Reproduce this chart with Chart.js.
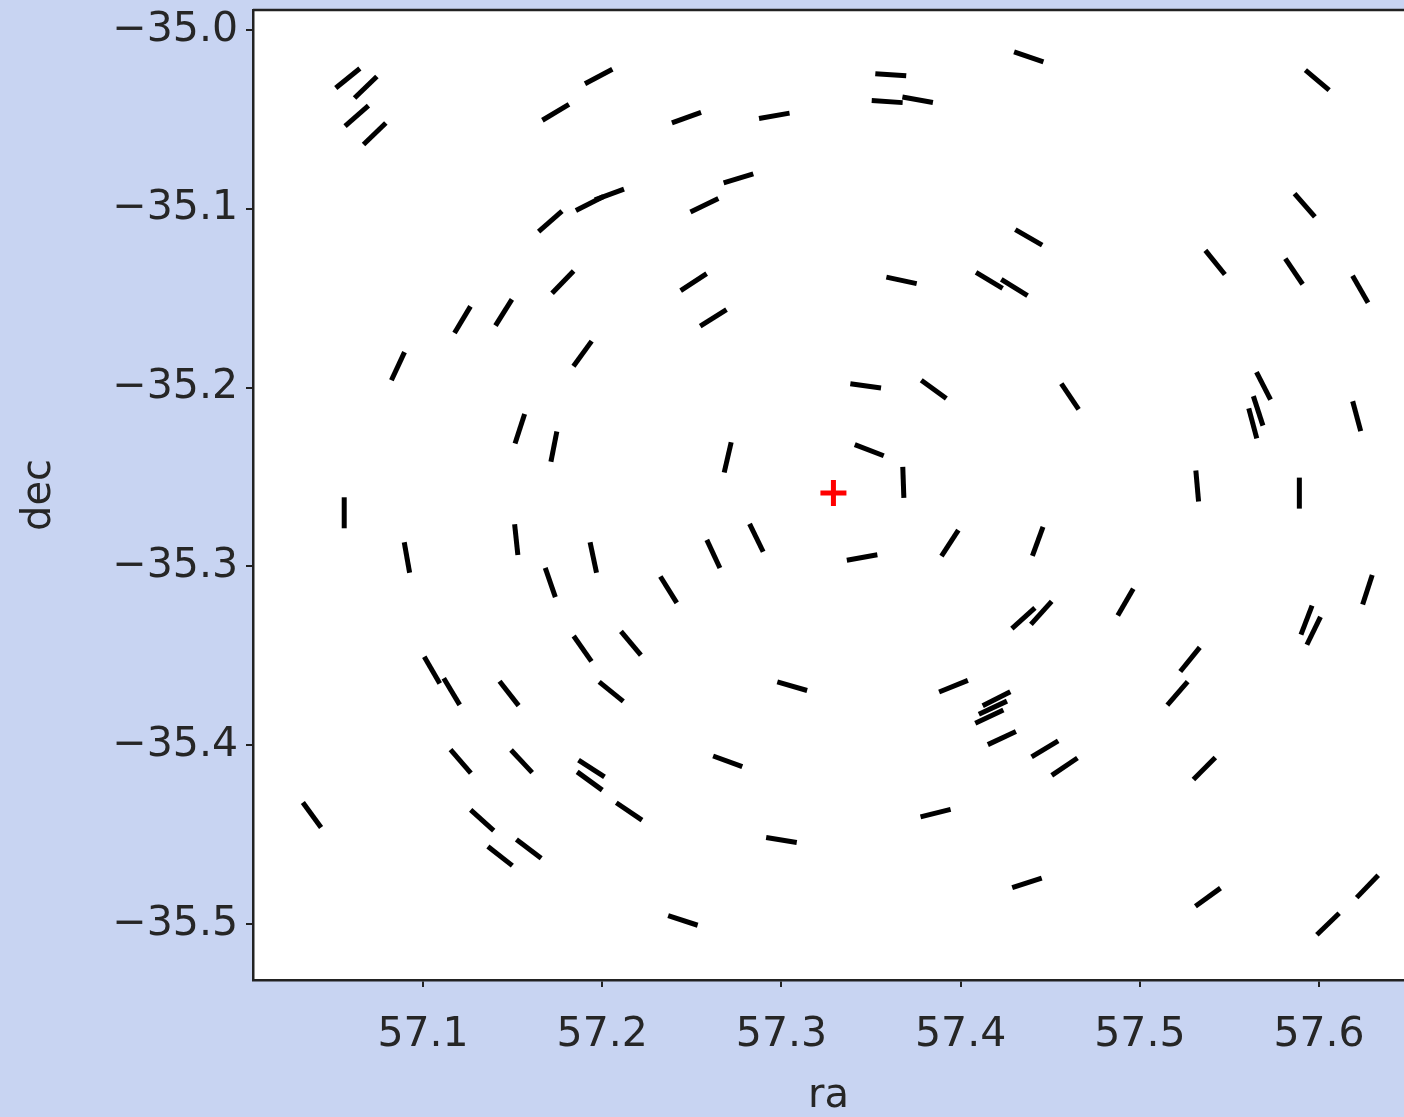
<!DOCTYPE html>
<html>
<head>
<meta charset="utf-8">
<script src="https://cdn.jsdelivr.net/npm/chart.js@4/dist/chart.umd.min.js"></script>
<style>
  html, body { margin: 0; padding: 0; background: #c8d4f2; }
  #wrap { width: 1404px; height: 1117px; }
</style>
</head>
<body>
<div id="wrap"><canvas id="shearChart"></canvas></div>
<script>
const ctx = document.getElementById("shearChart");

// stick positions (ra, dec) and screen angle of each stick in degrees
const ra = [
  57.058, 57.068, 57.063, 57.073, 57.198, 57.174, 57.193, 57.204, 57.171, 57.178,
  57.122, 57.145, 57.247, 57.296, 57.361, 57.359, 57.376, 57.276, 57.257, 57.251,
  57.262, 57.367, 57.416, 57.430, 57.438, 57.599, 57.592, 57.438, 57.542, 57.586,
  57.623, 57.086, 57.189, 57.154, 57.173, 57.056, 57.091, 57.152, 57.195, 57.171,
  57.189, 57.216, 57.347, 57.385, 57.270, 57.349, 57.368, 57.286, 57.262, 57.237,
  57.345, 57.394, 57.461, 57.569, 57.566, 57.563, 57.621, 57.532, 57.589, 57.443,
  57.435, 57.445, 57.492, 57.593, 57.597, 57.627, 57.528, 57.521, 57.105, 57.116,
  57.148, 57.205, 57.306, 57.396, 57.420, 57.418, 57.416, 57.423, 57.447, 57.458,
  57.536, 57.270, 57.121, 57.155, 57.194, 57.193, 57.215, 57.038, 57.133, 57.143,
  57.159, 57.386, 57.300, 57.245, 57.437, 57.538, 57.627, 57.605
];
const dec = [
  -35.027, -35.032, -35.048, -35.058, -35.026, -35.046, -35.097, -35.092, -35.107, -35.141,
  -35.162, -35.158, -35.049, -35.048, -35.025, -35.040, -35.039, -35.083, -35.098, -35.141,
  -35.161, -35.140, -35.140, -35.144, -35.015, -35.028, -35.098, -35.116, -35.130, -35.135,
  -35.145, -35.188, -35.181, -35.223, -35.233, -35.270, -35.295, -35.285, -35.295, -35.309,
  -35.346, -35.343, -35.199, -35.201, -35.239, -35.235, -35.253, -35.284, -35.293, -35.313,
  -35.295, -35.287, -35.205, -35.199, -35.213, -35.220, -35.216, -35.255, -35.259, -35.286,
  -35.329, -35.326, -35.320, -35.330, -35.336, -35.313, -35.352, -35.371, -35.358, -35.370,
  -35.371, -35.370, -35.367, -35.367, -35.374, -35.379, -35.384, -35.396, -35.402, -35.412,
  -35.413, -35.409, -35.409, -35.409, -35.413, -35.420, -35.437, -35.439, -35.442, -35.462,
  -35.458, -35.438, -35.453, -35.498, -35.477, -35.485, -35.479, -35.500
];
const angle = [
  -39, -44, -41, -44, -28, -31, -27, -20, -41, -46,
  -59, -58, -20, -10, 4, 4, 10, -17, -26, -33,
  -32, 12, 31, 32, 19, 40, 49, 30, 51, 56,
  60, -65, -54, -72, -79, 90, 80, 84, 78, 71,
  55, 50, 8, 36, -77, 21, 88, 64, 65, 58,
  -10, -57, 56, 63, 72, 75, 75, 85, 90, -70,
  -42, -48, -60, -69, -64, -72, -51, -49, 60, 59,
  52, 39, 16, -22, -27, -25, -25, -25, -31, -34,
  -45, 20, 49, 47, 33, 36, 34, 54, 42, 38,
  37, -14, 9, 18, -18, -36, -46, -44
];

const centerRa = [57.329];
const centerDec = [-35.259];

const xTicks = [57.1, 57.2, 57.3, 57.4, 57.5, 57.6];
const yTicks = [-35.0, -35.1, -35.2, -35.3, -35.4, -35.5];

const sticks = ra.map((r, i) => ({ x: r, y: dec[i] }));
const center = centerRa.map((r, i) => ({ x: r, y: centerDec[i] }));

const fmt = (v) => v.toFixed(1).replace("-", "\u2212");
const TEXT = "#262626";
const FONT = "DejaVu Sans";

// white plot area + top spine
const frame = {
  id: "frame",
  beforeDraw(chart) {
    const a = chart.chartArea;
    const c = chart.ctx;
    c.save();
    c.fillStyle = "#ffffff";
    c.fillRect(a.left, a.top, a.right - a.left, a.bottom - a.top);
    c.restore();
  },
  afterDraw(chart) {
    const a = chart.chartArea;
    const c = chart.ctx;
    c.save();
    c.strokeStyle = "#222";
    c.lineWidth = 2.5;
    c.beginPath();
    c.moveTo(a.left, a.top);
    c.lineTo(a.right, a.top);
    c.stroke();
    c.restore();
  },
};

new Chart(ctx, {
  type: "scatter",
  data: {
    datasets: [
      {
        data: sticks,
        pointStyle: "line",
        rotation: angle,
        pointRadius: 15.5,
        borderColor: "#000",
        borderWidth: 5,
      },
      {
        data: center,
        pointStyle: "cross",
        pointRadius: 13,
        borderColor: "#ff0000",
        borderWidth: 5,
      },
    ],
  },
  options: {
    responsive: true,
    maintainAspectRatio: false,
    animation: false,
    events: [],
    layout: { autoPadding: false, padding: { top: 10, right: 0, left: 0, bottom: 0 } },
    plugins: {
      legend: { display: false },
      tooltip: { enabled: false },
    },
    scales: {
      x: {
        type: "linear",
        min: 57.0051,
        max: 57.6474,
        afterBuildTicks: (s) => { s.ticks = xTicks.map((v) => ({ value: v })); },
        afterFit: (s) => { s.height = 137; s.paddingLeft = 0; s.paddingRight = 0; },
        grid: { drawOnChartArea: false, drawTicks: true, tickLength: 7, color: "#222", lineWidth: 2 },
        border: { display: true, color: "#222", width: 2.5 },
        ticks: {
          callback: (v) => fmt(v),
          color: TEXT,
          font: { family: FONT, size: 41 },
          padding: 24,
          maxRotation: 0,
        },
        title: {
          display: true,
          text: "ra",
          color: TEXT,
          font: { family: FONT, size: 40, lineHeight: 1 },
          padding: 0,
        },
      },
      y: {
        type: "linear",
        min: -35.5313,
        max: -34.9888,
        afterBuildTicks: (s) => { s.ticks = yTicks.map((v) => ({ value: v })); },
        afterFit: (s) => { s.width = 253; s.paddingTop = 0; s.paddingBottom = 0; },
        grid: { drawOnChartArea: false, drawTicks: true, tickLength: 7, color: "#222", lineWidth: 2 },
        border: { display: true, color: "#222", width: 2.5 },
        ticks: {
          callback: (v) => fmt(v),
          color: TEXT,
          font: { family: FONT, size: 41 },
          padding: 8,
        },
        title: {
          display: true,
          text: "dec",
          color: TEXT,
          font: { family: FONT, size: 40, lineHeight: 1 },
          padding: { top: 20, bottom: 0 },
        },
      },
    },
  },
  plugins: [frame],
});
</script>
</body>
</html>
